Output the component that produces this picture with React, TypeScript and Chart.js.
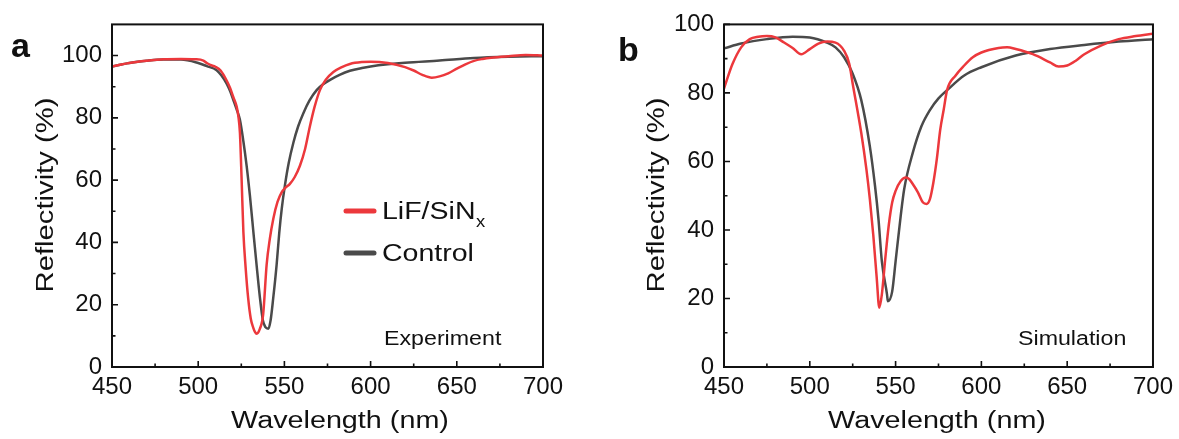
import React, { useEffect, useRef } from 'react';
import { Chart, registerables } from 'chart.js';

Chart.register(...registerables);

const FONT = '"Liberation Sans", Arial, Helvetica, sans-serif';
const RED = 'rgb(236,56,60)';
const GRAY = 'rgb(74,74,74)';
const TEXT = '#111111';

// ---------- Panel a : Experiment ----------
const expLiFWavelength = [450, 460, 470, 480, 490, 498, 503, 505, 507, 510, 513, 516.5, 518.5, 520.4, 522.3, 523.3, 524.2, 525.2, 526.2, 527.5, 529, 530.5, 532, 533, 533.9, 535.8, 537.7, 539.7, 541.5, 543.6, 546, 548.4, 550.5, 553.2, 556, 559, 562, 564.8, 567.5, 570.6, 574, 578.4, 583, 588, 595, 600, 610, 620, 625, 630, 635.5, 640, 645, 650, 655, 660, 665, 670, 680, 690, 700];
const expLiFReflectivity = [96.5, 97.6, 98.3, 98.8, 98.9, 98.8, 98.4, 97.6, 97.0, 96.4, 95.2, 92.0, 89.6, 86.6, 83.6, 80.5, 75.2, 60.0, 43.4, 32.0, 22.0, 15.5, 12.5, 11.2, 10.7, 12.3, 17.0, 32.9, 41.0, 47.7, 53.0, 56.1, 57.5, 58.8, 61.0, 64.6, 70.0, 77.3, 83.5, 88.9, 92.2, 94.7, 96.2, 97.3, 97.9, 98.0, 97.6, 96.3, 95.2, 93.8, 92.9, 93.3, 94.3, 95.8, 97.2, 98.3, 98.9, 99.3, 99.8, 100.2, 100.0];

const expControlWavelength = [450, 460, 470, 480, 490, 500, 505, 510.7, 513.5, 516.5, 518.5, 520.4, 522.3, 524.2, 526.2, 528.1, 530, 532, 534, 535.8, 537.5, 539, 540.7, 542, 543.5, 545.5, 547, 548.5, 550.3, 552.5, 555.2, 558, 561, 564.5, 568.7, 572.5, 576.5, 582, 588, 595, 600, 610, 620, 640, 660, 680, 700];
const expControlReflectivity = [96.5, 97.6, 98.3, 98.7, 98.7, 97.6, 96.6, 95.3, 93.6, 91.0, 88.6, 85.7, 82.7, 79.4, 72.5, 64.6, 55.0, 43.4, 32.0, 22.3, 15.0, 12.8, 12.3, 15.0, 22.0, 32.9, 43.0, 51.0, 58.3, 65.5, 72.0, 77.3, 81.5, 85.5, 88.9, 90.8, 92.2, 93.8, 95.1, 96.0, 96.5, 97.2, 97.7, 98.4, 99.2, 99.6, 99.8];

// ---------- Panel b : Simulation ----------
const simLiFWavelength = [450, 455, 460, 465, 470, 475, 480, 485, 490, 495, 500, 505, 510, 515, 520, 523, 525, 530, 533, 535, 537, 539, 540.5, 542, 544, 546, 548, 550, 553, 556, 558, 560, 563, 566, 568, 570, 572, 574, 576, 578, 580, 585, 590, 595, 600, 610, 615, 620, 630, 640, 645, 650, 655, 660, 670, 680, 690, 700];
const simLiFReflectivity = [81.3, 88.5, 93.3, 95.7, 96.4, 96.6, 96.2, 94.7, 93.1, 91.3, 92.8, 94.4, 95.0, 94.7, 92.3, 88.5, 82.7, 68.3, 57.7, 49.0, 38.5, 26.0, 17.3, 21.2, 31.7, 41.3, 48.0, 51.4, 54.3, 55.3, 54.8, 53.4, 51.0, 48.0, 47.6, 49.0, 53.8, 60.6, 69.2, 75.0, 80.8, 85.1, 88.0, 90.4, 91.8, 93.1, 93.3, 92.8, 91.3, 88.9, 87.7, 88.0, 89.4, 91.3, 93.9, 95.7, 96.6, 97.3];

const simControlWavelength = [450, 460, 475, 490, 500, 510, 515, 520, 525, 530, 535, 538, 540, 542, 545, 545.5, 548, 550, 553, 555, 560, 565, 570, 575, 580, 590, 600, 620, 640, 660, 680, 700];
const simControlReflectivity = [93.0, 94.4, 95.7, 96.4, 96.2, 94.7, 93.3, 90.4, 85.6, 77.9, 64.4, 52.9, 43.3, 30.8, 21.2, 19.2, 22.0, 30.8, 44.2, 51.9, 62.5, 70.2, 75.0, 78.4, 80.8, 85.1, 87.5, 90.9, 92.8, 94.0, 95.0, 95.7];

// ---------- Axis ticks ----------
const xTickValues = [450, 500, 550, 600, 650, 700];
const xMinorTickValues = [475, 525, 575, 625, 675];
const yTickValues = [0, 20, 40, 60, 80, 100];
const yMinorTickValues = [10, 30, 50, 70, 90];

const seriesNames = ['LiF/SiN', 'Control'];

function toPoints(xs: number[], ys: number[]) {
  return xs.map((x, i) => ({ x, y: ys[i] }));
}

function drawText(
  ctx: CanvasRenderingContext2D,
  text: string,
  x: number,
  y: number,
  o: { size: number; bold?: boolean; stretch?: number; align?: CanvasTextAlign; rotate?: number }
) {
  ctx.save();
  ctx.translate(x, y);
  if (o.rotate) ctx.rotate(o.rotate);
  ctx.scale(o.stretch ?? 1, 1);
  ctx.font = `${o.bold ? 'bold ' : ''}${o.size}px ${FONT}`;
  ctx.fillStyle = TEXT;
  ctx.textAlign = o.align ?? 'left';
  ctx.textBaseline = 'alphabetic';
  ctx.fillText(text, 0, 0);
  ctx.restore();
}

type PanelCfg = {
  letter: string;
  letterX: number;
  letterY: number;
  note: string;
  noteX: number;
  yTitleX: number;
  xTitleX: number;
  legend: boolean;
};

function makeDecorPlugin(cfg: PanelCfg) {
  return {
    id: 'decor' + cfg.letter,
    afterDraw(chart: any) {
      const ctx: CanvasRenderingContext2D = chart.ctx;
      const { left, right, top, bottom } = chart.chartArea;
      const xs = chart.scales.x;
      const ys = chart.scales.y;
      ctx.save();
      // frame
      ctx.strokeStyle = TEXT;
      ctx.lineWidth = 2;
      ctx.strokeRect(left, top, right - left, bottom - top);
      // ticks (inward)
      ctx.lineWidth = 1.6;
      ctx.beginPath();
      xTickValues.forEach((v) => {
        const px = xs.getPixelForValue(v);
        ctx.moveTo(px, bottom);
        ctx.lineTo(px, bottom - 6);
      });
      xMinorTickValues.forEach((v) => {
        const px = xs.getPixelForValue(v);
        ctx.moveTo(px, bottom);
        ctx.lineTo(px, bottom - 3.5);
      });
      yTickValues.forEach((v) => {
        const py = ys.getPixelForValue(v);
        ctx.moveTo(left, py);
        ctx.lineTo(left + 6, py);
      });
      yMinorTickValues.forEach((v) => {
        const py = ys.getPixelForValue(v);
        ctx.moveTo(left, py);
        ctx.lineTo(left + 3.5, py);
      });
      ctx.stroke();
      ctx.restore();

      // axis titles
      drawText(ctx, 'Reflectivity (%)', cfg.yTitleX, 195, { size: 23, stretch: 1.27, align: 'center', rotate: -Math.PI / 2 });
      drawText(ctx, 'Wavelength (nm)', cfg.xTitleX, 428, { size: 23, stretch: 1.25, align: 'center' });
      // panel letter
      drawText(ctx, cfg.letter, cfg.letterX, cfg.letterY, { size: 34, bold: true });
      // annotation
      drawText(ctx, cfg.note, cfg.noteX, 345, { size: 20, stretch: 1.16 });

      if (cfg.legend) {
        const lx0 = 346, lx1 = 374, tx = 382;
        const rows = [
          { y: 211, color: RED },
          { y: 253, color: GRAY },
        ];
        ctx.save();
        ctx.lineCap = 'round';
        ctx.lineWidth = 5;
        rows.forEach((r) => {
          ctx.strokeStyle = r.color;
          ctx.beginPath();
          ctx.moveTo(lx0, r.y);
          ctx.lineTo(lx1, r.y);
          ctx.stroke();
        });
        ctx.restore();
        const st = 1.24;
        drawText(ctx, seriesNames[0], tx, 219, { size: 23, stretch: st });
        ctx.save();
        ctx.font = `23px ${FONT}`;
        const w = ctx.measureText(seriesNames[0]).width * st;
        ctx.restore();
        drawText(ctx, 'x', tx + w + 0.5, 226.5, { size: 16, stretch: 1.15 });
        drawText(ctx, seriesNames[1], tx, 261, { size: 23, stretch: st });
      }
    },
  };
}

function makeConfig(
  red: { x: number; y: number }[],
  gray: { x: number; y: number }[],
  yMax: number,
  yAxisWidth: number,
  padRight: number,
  cfg: PanelCfg
): any {
  const tickFont = { family: FONT, size: 24 };
  return {
    type: 'line',
    data: {
      datasets: [
        {
          label: 'LiF/SiNx',
          data: red,
          borderColor: RED,
          borderWidth: 2.5,
          pointRadius: 0,
          cubicInterpolationMode: 'monotone',
          fill: false,
        },
        {
          label: 'Control',
          data: gray,
          borderColor: GRAY,
          borderWidth: 2.5,
          pointRadius: 0,
          cubicInterpolationMode: 'monotone',
          fill: false,
        },
      ],
    },
    options: {
      animation: false,
      responsive: false,
      events: [],
      layout: { padding: { left: 0, right: padRight, top: 20, bottom: 0 } },
      plugins: { legend: { display: false }, tooltip: { enabled: false }, title: { display: false } },
      scales: {
        x: {
          type: 'linear',
          min: 450,
          max: 700,
          afterBuildTicks: (s: any) => {
            s.ticks = xTickValues.map((v) => ({ value: v }));
          },
          afterFit: (s: any) => {
            s.height = 72;
          },
          grid: { display: false, drawTicks: false },
          border: { display: false },
          ticks: { font: tickFont, color: TEXT, padding: 6, maxRotation: 0, autoSkip: false },
        },
        y: {
          type: 'linear',
          min: 0,
          max: yMax,
          afterBuildTicks: (s: any) => {
            s.ticks = yTickValues.map((v) => ({ value: v }));
          },
          afterFit: (s: any) => {
            s.width = yAxisWidth;
          },
          grid: { display: false, drawTicks: false },
          border: { display: false },
          ticks: { font: tickFont, color: TEXT, padding: 10, autoSkip: false },
        },
      },
    },
    plugins: [makeDecorPlugin(cfg)],
  };
}

export default function App() {
  const refA = useRef<HTMLCanvasElement>(null);
  const refB = useRef<HTMLCanvasElement>(null);

  useEffect(() => {
    const chartA = new Chart(
      refA.current as HTMLCanvasElement,
      makeConfig(
        toPoints(expLiFWavelength, expLiFReflectivity),
        toPoints(expControlWavelength, expControlReflectivity),
        110,
        112,
        47,
        { letter: 'a', letterX: 11, letterY: 57, note: 'Experiment', noteX: 384, yTitleX: 53, xTitleX: 340, legend: true }
      )
    );
    const chartB = new Chart(
      refB.current as HTMLCanvasElement,
      makeConfig(
        toPoints(simLiFWavelength, simLiFReflectivity),
        toPoints(simControlWavelength, simControlReflectivity),
        100,
        134,
        24,
        { letter: 'b', letterX: 28, letterY: 61, note: 'Simulation', noteX: 428, yTitleX: 74, xTitleX: 347, legend: false }
      )
    );
    return () => {
      chartA.destroy();
      chartB.destroy();
    };
  }, []);

  return (
    <div style={{ position: 'fixed', left: 0, top: 0, width: 1179, height: 439, background: '#ffffff' }}>
      <canvas ref={refA} width={590} height={439} style={{ position: 'absolute', left: 0, top: 0, width: 590, height: 439 }} />
      <canvas ref={refB} width={589} height={439} style={{ position: 'absolute', left: 590, top: 0, width: 589, height: 439 }} />
    </div>
  );
}
